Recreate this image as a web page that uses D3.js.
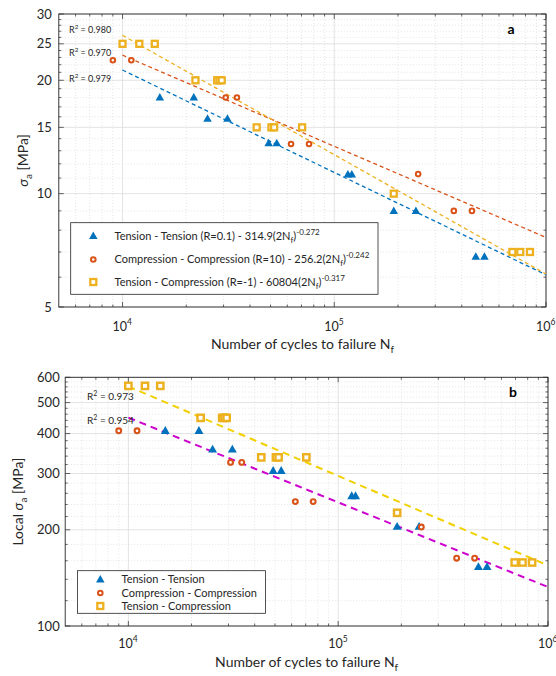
<!DOCTYPE html>
<html><head><meta charset="utf-8">
<script src="https://cdn.jsdelivr.net/npm/d3@7"></script>
<style>body{margin:0;background:#fff}svg{display:block;font-family:Lato,"Open Sans",sans-serif}</style>
</head><body><svg id="c" width="556" height="676"></svg>
<script>
// ---------- data ----------
const ttCycles  = [15000, 21700, 25200, 31300, 49000, 53500, 116000, 121000, 191000, 243000, 466000, 512000];
const ttStressA = [18, 18, 15.8, 15.8, 13.6, 13.6, 11.25, 11.25, 9.0, 9.0, 6.8, 6.8];
const ttStressB = [408, 408, 357, 357, 306, 306, 255, 255, 204.5, 204.5, 153, 153];

const ccCycles  = [9000, 11000, 30700, 34700, 62500, 76000, 249000, 367000, 447000];
const ccStressA = [22.6, 22.6, 18, 18, 13.55, 13.55, 11.27, 9.0, 9.0];
const ccStressB = [408, 408, 325, 325, 245, 245, 204, 163, 163];

const tcCycles  = [10000, 12000, 14200, 22100, 28000, 28700, 29400, 43000, 50500, 52000, 70500, 191000, 694000, 756000, 840000];
const tcStressA = [25, 25, 25, 20, 20, 20, 20, 15, 15, 15, 15, 10, 7, 7, 7];
const tcStressB = [564, 564, 564, 448, 448, 448, 448, 337, 337, 337, 337, 226, 158, 158, 158];

const xTickExponents = [4, 5, 6];
const yTicksA = [5, 10, 15, 20, 25, 30];
const yTicksB = [100, 200, 300, 400, 500, 600];

// power-law fits  sigma = C (2N)^b
const fitCoefA = [314.9, 256.2, 608.04];
const fitExpA  = [-0.272, -0.242, -0.317];
const fitR2A   = ["0.979", "0.970", "0.980"];
const fitCoefB = [6191, 8990];
const fitExpB  = [-0.265, -0.28];
const fitR2B   = ["0.954", "0.973"];

const legendA = [
  ["Tension - Tension (R=0.1) - 314.9(2N", "-0.272"],
  ["Compression - Compression (R=10) - 256.2(2N", "-0.242"],
  ["Tension - Compression (R=-1) - 60804(2N", "-0.317"]
];
const legendB = ["Tension - Tension", "Compression - Compression", "Tension - Compression"];

// ---------- drawing ----------
const svg = d3.select("#c");
svg.append("rect").attr("width",556).attr("height",676).attr("fill","#fff");
const TXT = "#262626";
const BLUE = "#0072BD", RED = "#D95319", YEL = "#EDB120";

function triPath(w,h){ return `M0,${-h*0.6}L${w/2},${h*0.4}L${-w/2},${h*0.4}Z`; }

function marker(g, type, x, y, s){
  s = s || 1;
  if(type==="tri"){
    g.append("path").attr("d",triPath(8.5*s,7.5*s)).attr("transform",`translate(${x},${y})`).attr("fill",BLUE);
  } else if(type==="circ"){
    g.append("circle").attr("cx",x).attr("cy",y).attr("r",2.3*s).attr("fill","#fff").attr("stroke",RED).attr("stroke-width",2*s);
  } else {
    const a = 3*s;
    g.append("rect").attr("x",x-a).attr("y",y-a).attr("width",2*a).attr("height",2*a)
      .attr("fill","#fff").attr("stroke",YEL).attr("stroke-width",2.3*s);
  }
}

function panel(cfg){
  const g = svg.append("g");
  const x = d3.scaleLog().domain([5000,1e6]).range([cfg.left,cfg.right]);
  const y = d3.scaleLog().domain(cfg.ydom).range([cfg.bottom,cfg.top]);
  const xMinor = [];
  for(let e=3;e<=5;e++) for(let k=2;k<=9;k++){ const v=k*Math.pow(10,e); if(v>5000&&v<1e6) xMinor.push(v); }
  const xMajor = xTickExponents.map(e=>Math.pow(10,e));
  g.selectAll(null).data(xMinor).enter().append("line")
    .attr("x1",d=>x(d)).attr("x2",d=>x(d)).attr("y1",cfg.top).attr("y2",cfg.bottom)
    .attr("stroke","#d4d4d4").attr("stroke-width",0.6).attr("stroke-dasharray","1,2");
  g.selectAll(null).data(cfg.yMinor).enter().append("line")
    .attr("y1",d=>y(d)).attr("y2",d=>y(d)).attr("x1",cfg.left).attr("x2",cfg.right)
    .attr("stroke","#d4d4d4").attr("stroke-width",0.6).attr("stroke-dasharray","1,2");
  g.selectAll(null).data(xMajor).enter().append("line")
    .attr("x1",d=>x(d)).attr("x2",d=>x(d)).attr("y1",cfg.top).attr("y2",cfg.bottom)
    .attr("stroke","#dcdcdc").attr("stroke-width",0.8);
  g.selectAll(null).data(cfg.yTicks).enter().append("line")
    .attr("y1",d=>y(d)).attr("y2",d=>y(d)).attr("x1",cfg.left).attr("x2",cfg.right)
    .attr("stroke","#dcdcdc").attr("stroke-width",0.8);
  const tk = (v,len,horiz)=>{
    if(horiz){
      g.append("line").attr("x1",x(v)).attr("x2",x(v)).attr("y1",cfg.bottom).attr("y2",cfg.bottom-len).attr("stroke",TXT).attr("stroke-width",0.7);
      g.append("line").attr("x1",x(v)).attr("x2",x(v)).attr("y1",cfg.top).attr("y2",cfg.top+len).attr("stroke",TXT).attr("stroke-width",0.7);
    } else {
      g.append("line").attr("y1",y(v)).attr("y2",y(v)).attr("x1",cfg.left).attr("x2",cfg.left+len).attr("stroke",TXT).attr("stroke-width",0.7);
      g.append("line").attr("y1",y(v)).attr("y2",y(v)).attr("x1",cfg.right).attr("x2",cfg.right-len).attr("stroke",TXT).attr("stroke-width",0.7);
    }
  };
  xMinor.forEach(v=>tk(v,2.5,true)); xMajor.forEach(v=>tk(v,5,true));
  cfg.yMinor.forEach(v=>tk(v,2.5,false)); cfg.yTicks.forEach(v=>tk(v,5,false));
  g.append("rect").attr("x",cfg.left).attr("y",cfg.top).attr("width",cfg.right-cfg.left).attr("height",cfg.bottom-cfg.top)
    .attr("fill","none").attr("stroke",TXT).attr("stroke-width",0.9);
  g.selectAll(null).data(cfg.yTicks).enter().append("text")
    .attr("x",cfg.left-cfg.ylabGap).attr("y",d=>y(d)).attr("dy","0.35em").attr("text-anchor","end")
    .attr("font-size",13).attr("fill",TXT).text(d=>d);
  xTickExponents.forEach(e=>{
    const t = g.append("text").attr("x",x(Math.pow(10,e))-10).attr("y",cfg.bottom+cfg.xlabOff).attr("text-anchor","start")
      .attr("font-size",12.5).attr("fill",TXT);
    t.append("tspan").text("10");
    t.append("tspan").attr("dy",-6).attr("font-size",8.5).text(e);
  });
  const xt = g.append("text").attr("x",(cfg.left+cfg.right)/2).attr("y",cfg.xtitleY).attr("text-anchor","middle")
    .attr("font-size",14).attr("fill",TXT);
  xt.append("tspan").text("Number of cycles to failure N");
  xt.append("tspan").attr("dy",4).attr("font-size",10).text("f");
  const yt = g.append("text").attr("transform",`translate(${cfg.ytitleX},${(cfg.top+cfg.bottom)/2}) rotate(-90)`)
    .attr("text-anchor","middle").attr("font-size",14).attr("fill",TXT);
  yt.append("tspan").text(cfg.yPrefix);
  yt.append("tspan").attr("font-style","italic").text("σ");
  yt.append("tspan").attr("dy",4).attr("font-size",10).text("a");
  yt.append("tspan").attr("dy",-4).text("\u00a0[MPa]");
  cfg.fits.forEach((f,i)=>{
    const pts = [1e4,1e6].map(n=>[x(n), y(f.c*Math.pow(2*n,f.b))]);
    g.append("path").attr("d",d3.line()(pts)).attr("fill","none").attr("stroke",f.color)
      .attr("stroke-width",cfg.fitW).attr("stroke-dasharray",cfg.fitDash);
  });
  cfg.r2.forEach(r=>{
    const t = g.append("text").attr("x",r.x).attr("y",r.y).attr("dy","0.35em").attr("font-size",cfg.r2Size).attr("fill",TXT);
    t.append("tspan").text("R");
    t.append("tspan").attr("dy",-4).attr("font-size",cfg.r2Size*0.7).text("2");
    t.append("tspan").attr("dy",4).text(" = "+r.v);
  });
  cfg.series.forEach(s=>{
    s.n.forEach((n,i)=>marker(g,s.type,x(n),y(s.v[i]),cfg.ms));
  });
  g.append("text").attr("x",cfg.letterX).attr("y",cfg.letterY).attr("dy","0.35em").attr("text-anchor","middle")
    .attr("font-size",14).attr("font-weight","bold").attr("fill","#000").text(cfg.letter);
  return g;
}

const yMinorA = d3.range(6,30).filter(v=>!yTicksA.includes(v));
const yMinorB = d3.range(120,600,20).filter(v=>!yTicksB.includes(v));

const gA = panel({
  left:58.8, right:546, top:14, bottom:307, ydom:[5,30], yTicks:yTicksA, yMinor:yMinorA,
  ylabGap:7, xlabOff:24, xtitleY:349, ytitleX:28, yPrefix:"",
  fits:[{c:fitCoefA[0],b:fitExpA[0],color:BLUE},{c:fitCoefA[1],b:fitExpA[1],color:RED},{c:fitCoefA[2],b:fitExpA[2],color:YEL}],
  fitW:1.3, fitDash:"4,3",
  r2:[{x:69,y:30,v:fitR2A[2]},{x:69,y:53,v:fitR2A[1]},{x:69,y:79,v:fitR2A[0]}], r2Size:9,
  series:[{type:"tri",n:ttCycles,v:ttStressA},{type:"circ",n:ccCycles,v:ccStressA},{type:"sq",n:tcCycles,v:tcStressA}],
  ms:1, letter:"a", letterX:511, letterY:29
});

(function(){
  const lg = gA.append("g");
  lg.append("rect").attr("x",70.7).attr("y",222.7).attr("width",307.3).attr("height",71.6).attr("fill","#fff").attr("stroke",TXT).attr("stroke-width",0.8);
  const types = ["tri","circ","sq"], ys = [236,259.5,282];
  legendA.forEach((l,i)=>{
    marker(lg,types[i],93.3,ys[i],1);
    const t = lg.append("text").attr("x",114.5).attr("y",ys[i]).attr("dy","0.35em").attr("font-size",11).attr("fill",TXT);
    t.append("tspan").text(l[0]);
    t.append("tspan").attr("dy",3).attr("font-size",8).text("f");
    t.append("tspan").attr("dy",-3).text(")");
    t.append("tspan").attr("dy",-5).attr("font-size",8).text(l[1]);
  });
})();

const gB = panel({
  left:65.2, right:548, top:377.3, bottom:626, ydom:[100,600], yTicks:yTicksB, yMinor:yMinorB,
  ylabGap:5.5, xlabOff:22, xtitleY:667, ytitleX:23, yPrefix:"Local ",
  fits:[{c:fitCoefB[0],b:fitExpB[0],color:"#CC00CC"},{c:fitCoefB[1],b:fitExpB[1],color:"#F2D000"}],
  fitW:2, fitDash:"7,5",
  r2:[{x:87,y:396,v:fitR2B[1]},{x:87,y:420,v:fitR2B[0]}], r2Size:10,
  series:[{type:"tri",n:ttCycles,v:ttStressB},{type:"circ",n:ccCycles,v:ccStressB},{type:"sq",n:tcCycles,v:tcStressB}],
  ms:1.05, letter:"b", letterX:513, letterY:392
});

(function(){
  const lg = gB.append("g");
  lg.append("rect").attr("x",77.5).attr("y",570.7).attr("width",188).attr("height",42.6).attr("fill","#fff").attr("stroke",TXT).attr("stroke-width",0.8);
  const types = ["tri","circ","sq"], ys = [579.5,593,606];
  legendB.forEach((l,i)=>{
    marker(lg,types[i],100.3,ys[i],1);
    lg.append("text").attr("x",121.5).attr("y",ys[i]).attr("dy","0.35em").attr("font-size",11).attr("fill",TXT).text(l);
  });
})();
</script></body></html>
